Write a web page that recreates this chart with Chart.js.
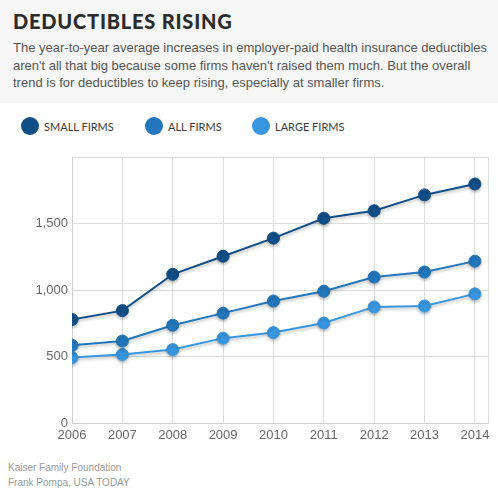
<!DOCTYPE html>
<html>
<head>
<meta charset="utf-8">
<script src="https://cdn.jsdelivr.net/npm/chart.js@4"></script>
<style>
  body { margin: 0; width: 498px; height: 489px; background: #fff; font-family: "Liberation Sans", Arial, sans-serif; position: relative; overflow: hidden; }
  #head { position: absolute; left: 0; top: 0; width: 498px; height: 103px; background: #f6f6f6; }
  #title { position: absolute; left: 13px; top: 9px; font-family: Lato, sans-serif; font-weight: 900; font-size: 20px; letter-spacing: 0.8px; color: #2b2b2b; }
  #dek { position: absolute; left: 13px; top: 39px; width: 480px; font-size: 13px; line-height: 17.7px; color: #555; }
  #legend { position: absolute; left: 0; top: 116px; height: 20px; width: 498px; }
  .item { position: absolute; top: 0; height: 20px; }
  .dot { position: absolute; top: 1px; width: 18px; height: 18px; border-radius: 50%; }
  .lab { position: absolute; top: 4px; font-family: Lato, sans-serif; font-size: 11px; color: #3a3a3a; white-space: nowrap; }
  #wrap { position: absolute; left: 0; top: 140px; width: 498px; height: 305px; }
  #source { position: absolute; left: 8px; top: 460px; font-size: 10px; line-height: 15px; color: #999; }
</style>
</head>
<body>
<div id="head">
  <div id="title">DEDUCTIBLES RISING</div>
  <div id="dek">The year-to-year average increases in employer-paid health insurance deductibles aren't all that big because some firms haven't raised them much. But the overall trend is for deductibles to keep rising, especially at smaller firms.</div>
</div>
<div id="legend"></div>
<div id="wrap"><canvas id="myChart"></canvas></div>
<div id="source">Kaiser Family Foundation<br>Frank Pompa, USA TODAY</div>
<script>
var years = [2006, 2007, 2008, 2009, 2010, 2011, 2012, 2013, 2014];
var smallFirms = [778, 845, 1118, 1254, 1390, 1539, 1596, 1715, 1797];
var allFirms = [584, 616, 735, 826, 917, 991, 1097, 1135, 1217];
var largeFirms = [492, 515, 552, 638, 680, 752, 873, 880, 971];
var seriesNames = ["SMALL FIRMS", "ALL FIRMS", "LARGE FIRMS"];
var seriesColors = ["#0f4e87", "#2276bb", "#3896e0"];
var yTicks = [0, 500, 1000, 1500, 2000];

// legend
var legendX = [[21, 44], [145, 168], [252, 275]];
var legend = document.getElementById("legend");
seriesNames.forEach(function(name, i){
	let item = document.createElement("div");
	item.className = "item";
	item.innerHTML = '<div class="dot" style="left:' + legendX[i][0] + 'px;background:' + seriesColors[i] + '"></div>' +
		'<div class="lab" style="left:' + legendX[i][1] + 'px">' + name + '</div>';
	legend.appendChild(item);
});

function toPoints(values){
	return years.map(function(y, i){ return { x: y, y: values[i] }; });
}

// soft shadow under the lines
var shadowPlugin = {
	id: 'lineShadow',
	beforeDatasetDraw: function(chart){
		let ctx = chart.ctx;
		ctx.save();
		ctx.shadowColor = 'rgba(0,0,0,0.25)';
		ctx.shadowBlur = 3;
		ctx.shadowOffsetY = 2;
	},
	afterDatasetDraw: function(chart){
		chart.ctx.restore();
	}
};

// right border of the plot
var rightBorder = {
	id: 'rightBorder',
	afterDraw: function(c){
		let a = c.chartArea, g = c.ctx;
		g.save();
		g.strokeStyle = '#dcdcdc';
		g.lineWidth = 1;
		g.beginPath();
		g.moveTo(Math.round(a.right) + 0.5, a.top);
		g.lineTo(Math.round(a.right) + 0.5, a.bottom);
		g.stroke();
		g.restore();
	}
};

var allSeries = [smallFirms, allFirms, largeFirms];
var ctx = document.getElementById('myChart').getContext('2d');
var chart = new Chart(ctx, {
	type: 'line',
	data: {
		datasets: allSeries.map(function(vals, i){
			return {
				label: seriesNames[i],
				data: toPoints(vals),
				borderColor: seriesColors[i],
				backgroundColor: seriesColors[i],
				borderWidth: 2,
				pointRadius: 6,
				pointBorderWidth: 1,
				pointHoverRadius: 6,
				tension: 0
			};
		})
	},
	plugins: [shadowPlugin, rightBorder],
	options: {
		responsive: true,
		maintainAspectRatio: false,
		animation: false,
		layout: { padding: { top: 17, right: 10, left: 0, bottom: 0 } },
		plugins: { legend: { display: false }, tooltip: { enabled: false } },
		scales: {
			x: {
				type: 'linear',
				min: years[0],
				max: years[years.length - 1] + 0.26,
				afterFit: function(scale){ scale.height = 22; },
				grid: { color: '#dcdcdc', drawTicks: false },
				border: { color: '#cfcfcf' },
				ticks: {
					stepSize: 1,
					includeBounds: false,
					padding: 5,
					maxRotation: 0,
					color: '#666',
					font: { family: '"Liberation Sans", Arial, sans-serif', size: 13 },
					callback: function(v){ return years.indexOf(v) >= 0 ? String(v) : ''; }
				}
			},
			y: {
				min: yTicks[0],
				max: yTicks[yTicks.length - 1],
				afterFit: function(scale){ scale.width = 72; },
				afterBuildTicks: function(scale){ scale.ticks = yTicks.map(function(v){ return { value: v }; }); },
				grid: { color: '#dcdcdc', drawTicks: false },
				border: { color: '#cfcfcf' },
				ticks: {
					padding: 4,
					color: '#666',
					font: { family: '"Liberation Sans", Arial, sans-serif', size: 13 },
					callback: function(v){ return v === 2000 ? '' : v.toLocaleString('en-US'); }
				}
			}
		}
	}
});
</script>
</body>
</html>
